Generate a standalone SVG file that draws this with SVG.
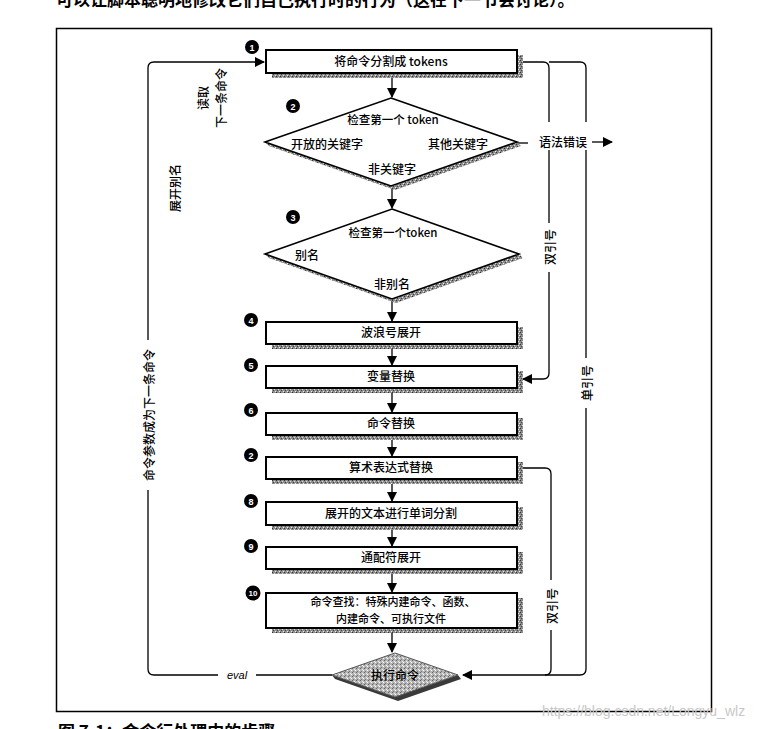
<svg xmlns="http://www.w3.org/2000/svg" width="778" height="729" viewBox="0 0 778 729">
<style>
.t{font-family:"Noto Sans CJK SC","Noto Sans",sans-serif;font-size:12px;font-weight:500;fill:#000}
.c{text-anchor:middle}
.box{fill:#fff;stroke:#000;stroke-width:2}
.dia{fill:#fff;stroke:#000;stroke-width:1.6}
.sh{fill:url(#stip)}
.ln{fill:none;stroke:#000;stroke-width:1.3}
.bd circle{fill:#000}
.bd text{font-family:"Liberation Sans",sans-serif;font-size:9px;font-weight:bold;fill:#fff;text-anchor:middle}
</style>
<defs>
<pattern id="stip" width="4" height="4" patternUnits="userSpaceOnUse">
<rect width="4" height="4" fill="#8c8c8c"/>
<rect x="0" y="0" width="1" height="1" fill="#333"/>
<rect x="2" y="1" width="1" height="1" fill="#ddd"/>
<rect x="1" y="2" width="1" height="1" fill="#444"/>
<rect x="3" y="3" width="1" height="1" fill="#eee"/>
</pattern>
<pattern id="stip2" width="4" height="4" patternUnits="userSpaceOnUse">
<rect width="4" height="4" fill="#b5b5b5"/>
<rect x="0" y="0" width="1" height="1" fill="#666"/>
<rect x="2" y="1" width="1" height="1" fill="#eee"/>
<rect x="1" y="3" width="1" height="1" fill="#777"/>
<rect x="3" y="2" width="1" height="1" fill="#fff"/>
</pattern>
<marker id="ah" markerWidth="10" markerHeight="10" refX="9" refY="5" orient="auto" markerUnits="userSpaceOnUse">
<path d="M0,0 L10,5 L0,10 Z" fill="#000"/>
</marker>
</defs>
<rect width="778" height="729" fill="#fff"/>
<text x="56" y="6" style="font-family:'Noto Sans CJK SC',sans-serif;font-size:17px;font-weight:bold">可以让脚本聪明地修改它们自己执行时的行为（这在下一节会讨论）。</text>
<rect x="56.5" y="28.5" width="655" height="683" fill="none" stroke="#000" stroke-width="1.5"/>

<g id="connectors">
<path class="ln" d="M392,73 V97" marker-end="url(#ah)"/>
<path class="ln" d="M392,186 V208" marker-end="url(#ah)"/>
<path class="ln" d="M392,299 V321" marker-end="url(#ah)"/>
<path class="ln" d="M392,344 V365" marker-end="url(#ah)"/>
<path class="ln" d="M392,388 V412" marker-end="url(#ah)"/>
<path class="ln" d="M392,435 V456" marker-end="url(#ah)"/>
<path class="ln" d="M392,479 V501" marker-end="url(#ah)"/>
<path class="ln" d="M392,525 V546" marker-end="url(#ah)"/>
<path class="ln" d="M392,569 V592" marker-end="url(#ah)"/>
<path class="ln" d="M392,628 V652" marker-end="url(#ah)"/>
<path class="ln" d="M517,143 H528"/>
<path class="ln" d="M592,142 H612" marker-end="url(#ah)"/>
<path class="ln" d="M517,62 H543 Q549,62 549,68 V122"/>
<path class="ln" d="M549,150 V223"/>
<path class="ln" d="M549,272 V373 Q549,379 543,379 H523" marker-end="url(#ah)"/>
<path class="ln" d="M549,62 H580 Q586,62 586,68 V122"/>
<path class="ln" d="M586,150 V358"/>
<path class="ln" d="M586,408 V669 Q586,675 580,675 H463" marker-end="url(#ah)"/>
<path class="ln" d="M517,468 H545 Q551,468 551,474 V580"/>
<path class="ln" d="M551,630 V669 Q551,675 545,675"/>
<path class="ln" d="M332,675 H256"/>
<path class="ln" d="M218,675 H154 Q148,675 148,669 V490"/>
<path class="ln" d="M148,340 V68 Q148,62 154,62 H264" marker-end="url(#ah)"/>
</g>

<g id="labels">
<text class="t" x="563" y="147" text-anchor="middle">语法错误</text>
<text class="t c" x="237" y="679" font-style="italic" style="font-family:'Liberation Sans',sans-serif;font-size:11px">eval</text>
<text class="t c" transform="translate(202,98) rotate(-90)" dominant-baseline="central">读取</text>
<text class="t c" transform="translate(220,98) rotate(-90)" dominant-baseline="central">下一条命令</text>
<text class="t c" transform="translate(174,188) rotate(-90)" dominant-baseline="central">展开别名</text>
<text class="t c" transform="translate(148,415) rotate(-90)" dominant-baseline="central">命令参数成为下一条命令</text>
<text class="t c" transform="translate(549,247) rotate(-90)" dominant-baseline="central">双引号</text>
<text class="t c" transform="translate(586,383) rotate(-90)" dominant-baseline="central">单引号</text>
<text class="t c" transform="translate(551,606) rotate(-90)" dominant-baseline="central">双引号</text>
</g>

<g id="n1">
<rect class="sh" x="272" y="55" width="251" height="23"/>
<rect class="box" x="266" y="50" width="251" height="23"/>
<text class="t c" x="391" y="66">将命令分割成 tokens</text>
<g class="bd"><circle cx="252" cy="47" r="7"/><text x="252" y="50.5">1</text></g>
</g>

<g id="n2">
<polygon class="sh" points="269,146 395,190 521,146 517,142 391,186 265,142"/>
<polygon class="dia" points="391,98 517,142 391,186 265,142"/>
<text class="t c" x="393" y="124" style="font-size:11.5px">检查第一个 token</text>
<text class="t c" x="327" y="149">开放的关键字</text>
<text class="t c" x="458" y="149">其他关键字</text>
<text class="t c" x="392" y="174">非关键字</text>
<g class="bd"><circle cx="293" cy="106" r="7"/><text x="293" y="109.5">2</text></g>
</g>

<g id="n3">
<polygon class="sh" points="269,258 396,303 523,258 519,254 392,299 265,254"/>
<polygon class="dia" points="392,209 519,254 392,299 265,254"/>
<text class="t c" x="393" y="237" style="font-size:11.5px">检查第一个token</text>
<text class="t c" x="307" y="260">别名</text>
<text class="t c" x="392" y="289">非别名</text>
<g class="bd"><circle cx="293" cy="217" r="7"/><text x="293" y="220.5">3</text></g>
</g>

<g id="n4">
<rect class="sh" x="272" y="327" width="251" height="22"/>
<rect class="box" x="266" y="322" width="251" height="22"/>
<text class="t c" x="391" y="337">波浪号展开</text>
<g class="bd"><circle cx="251" cy="320" r="7"/><text x="251" y="323.5">4</text></g>
</g>

<g id="n5">
<rect class="sh" x="272" y="371" width="251" height="22"/>
<rect class="box" x="266" y="366" width="251" height="22"/>
<text class="t c" x="391" y="381">变量替换</text>
<g class="bd"><circle cx="251" cy="365" r="7"/><text x="251" y="368.5">5</text></g>
</g>

<g id="n6">
<rect class="sh" x="272" y="418" width="251" height="22"/>
<rect class="box" x="266" y="413" width="251" height="22"/>
<text class="t c" x="391" y="428">命令替换</text>
<g class="bd"><circle cx="251" cy="410" r="7"/><text x="251" y="413.5">6</text></g>
</g>

<g id="n7">
<rect class="sh" x="272" y="462" width="251" height="22"/>
<rect class="box" x="266" y="457" width="251" height="22"/>
<text class="t c" x="391" y="472">算术表达式替换</text>
<g class="bd"><circle cx="251" cy="455" r="7"/><text x="251" y="458.5">2</text></g>
</g>

<g id="n8">
<rect class="sh" x="272" y="507" width="251" height="23"/>
<rect class="box" x="266" y="502" width="251" height="23"/>
<text class="t c" x="391" y="518">展开的文本进行单词分割</text>
<g class="bd"><circle cx="251" cy="501" r="7"/><text x="251" y="504.5">8</text></g>
</g>

<g id="n9">
<rect class="sh" x="272" y="552" width="251" height="22"/>
<rect class="box" x="266" y="547" width="251" height="22"/>
<text class="t c" x="391" y="562">通配符展开</text>
<g class="bd"><circle cx="251" cy="546" r="7"/><text x="251" y="549.5">9</text></g>
</g>

<g id="n10">
<rect class="sh" x="272" y="598" width="251" height="35"/>
<rect class="box" x="266" y="593" width="251" height="35"/>
<text class="t c" style="font-size:11px"><tspan x="393" y="606">命令查找：特殊内建命令、函数、</tspan><tspan x="391" y="623">内建命令、可执行文件</tspan></text>
<g class="bd"><circle cx="253" cy="593" r="7.5"/><text x="253" y="596" style="font-size:8px">10</text></g>
</g>

<g id="n11">
<polygon points="335,679 398,701 461,679 458,675 395,697 332,675" fill="#3a3a3a"/>
<polygon points="395,653 458,675 395,697 332,675" fill="url(#stip2)" stroke="#555" stroke-width="1"/>
<text class="t c" x="395" y="680" font-weight="bold">执行命令</text>
</g>

<text x="542" y="716" style="font-family:'Liberation Sans',sans-serif;font-size:14px;fill:#c8c8c8">https://blog.csdn.net/Longyu_wlz</text>
<text x="58" y="738" style="font-family:'Noto Sans CJK SC',sans-serif;font-size:17px;font-weight:bold">图 7-1：命令行处理中的步骤</text>
</svg>
